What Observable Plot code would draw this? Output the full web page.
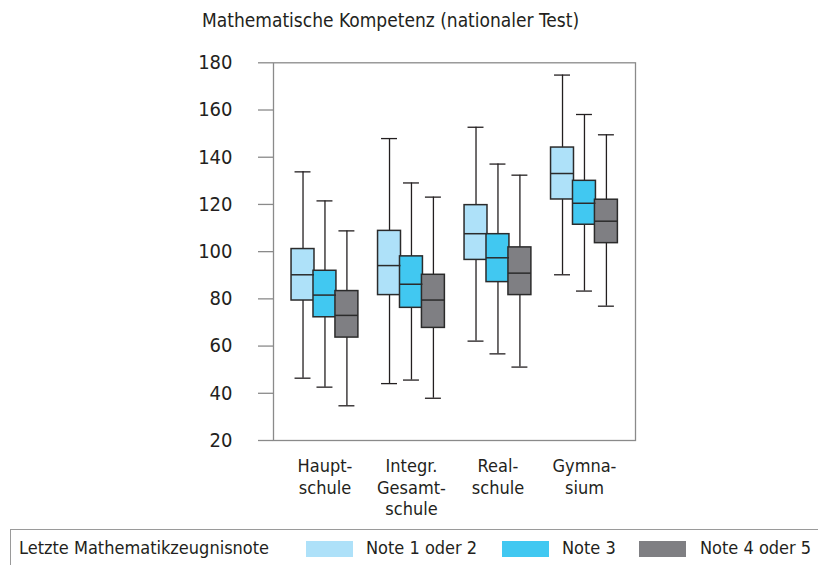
<!DOCTYPE html>
<html><head><meta charset="utf-8">
<script src="https://cdn.jsdelivr.net/npm/d3@7"></script>
<script src="https://cdn.jsdelivr.net/npm/@observablehq/plot@0.6"></script>
<style>
body{margin:0;background:#fff;font-family:"Liberation Sans Narrow","DejaVu Sans Condensed",sans-serif;color:#231f20;}
#wrap{position:relative;width:818px;height:565px;overflow:hidden;}
#title{position:absolute;left:202px;top:9px;font-size:19px;white-space:nowrap;}
#chart{position:absolute;left:0;top:0;}
#legend{position:absolute;left:10px;top:529px;width:900px;height:60px;border-top:1.5px solid #9a9a9a;border-left:1.5px solid #9a9a9a;}
#legend span.t{position:absolute;top:7px;font-size:18px;white-space:nowrap;}
#legend span.s{position:absolute;top:11px;width:47px;height:16px;}
</style></head>
<body><div id="wrap"><div id="title">Mathematische Kompetenz (nationaler Test)</div><div id="chart"></div><div id="legend"></div></div>
<script>
const groups = ["Haupt-\nschule", "Integr.\nGesamt-\nschule", "Real-\nschule", "Gymna-\nsium"];
const notes = ["Note 1 oder 2", "Note 3", "Note 4 oder 5"];
const colors = ["#aee1f9", "#41c8f1", "#7f7f83"];
const legendTitle = "Letzte Mathematikzeugnisnote";
const yTicks = [20, 40, 60, 80, 100, 120, 140, 160, 180];
// per group: [Note 1-2, Note 3, Note 4-5]
const whiskerLow = [[46.4,42.6,34.7],[44.1,45.6,37.9],[62.1,56.7,51.1],[90.2,83.3,76.9]];
const q1 = [[79.3,72.2,63.6],[81.6,76.2,67.7],[96.5,87.1,81.6],[122.1,111.4,103.6]];
const median = [[90.2,81.6,73.0],[94.1,86.2,79.5],[107.6,97.4,90.9],[133.1,120.5,112.9]];
const q3 = [[101.1,91.9,83.3],[108.8,98.0,90.2],[119.7,107.4,101.8],[144.1,130.0,122.0]];
const whiskerHigh = [[133.8,121.5,108.8],[147.9,129.1,123.1],[152.7,137.1,132.4],[174.8,158.1,149.5]];

const rows = [];
groups.forEach((g, gi) => notes.forEach((n, ni) => rows.push({
  gi, ni, note: n,
  lo: whiskerLow[gi][ni], q1: q1[gi][ni], med: median[gi][ni], q3: q3[gi][ni], hi: whiskerHigh[gi][ni]
})));

const unit = 86.7;            // px per group
const step = 22 / unit;       // offset between boxes
const boxHalf = 11.5 / unit;
const capHalf = 8 / unit;
const cx = d => d.gi + (d.ni - 1) * step;

const plot = Plot.plot({
  width: 818, height: 525,
  marginTop: 62.3, marginBottom: 85, marginLeft: 273, marginRight: 183,
  style: {fontFamily: '"Liberation Sans Narrow","DejaVu Sans Condensed",sans-serif', color: "#231f20", background: "transparent"},
  x: {type: "linear", domain: [-0.595, 3.59]},
  y: {domain: [20, 180]},
  color: {domain: notes, range: colors},
  marks: [
    Plot.axisY({ticks: yTicks, tickSize: 15, tickPadding: 26, fontSize: 20, stroke: "#8a8a8a", strokeWidth: 1.3, tickFormat: d => String(d), label: null}),
    Plot.axisX({ticks: [0, 1, 2, 3], tickSize: 0, tickPadding: 17, fontSize: 18, lineHeight: 1.17, tickFormat: i => groups[i], label: null}),
    Plot.ruleX(rows, {x: cx, y1: "lo", y2: "hi", stroke: "#231f20", strokeWidth: 1.3}),
    Plot.ruleY(rows, {y: "lo", x1: d => cx(d) - capHalf, x2: d => cx(d) + capHalf, stroke: "#231f20", strokeWidth: 1.3}),
    Plot.ruleY(rows, {y: "hi", x1: d => cx(d) - capHalf, x2: d => cx(d) + capHalf, stroke: "#231f20", strokeWidth: 1.3}),
    Plot.rect(rows, {x1: d => cx(d) - boxHalf, x2: d => cx(d) + boxHalf, y1: "q1", y2: "q3", fill: "note", stroke: "#2b2b2b", strokeWidth: 1.5}),
    Plot.ruleY(rows, {y: "med", x1: d => cx(d) - boxHalf, x2: d => cx(d) + boxHalf, stroke: "#2b2b2b", strokeWidth: 1.5}),
    Plot.frame({stroke: "#8a8a8a", strokeWidth: 1.3})
  ]
});
document.getElementById("chart").appendChild(plot);

const lg = document.getElementById("legend");
const t = document.createElement("span"); t.className = "t"; t.style.left = "8px"; t.textContent = legendTitle; lg.appendChild(t);
const swX = [295, 491, 628];
const txX = [355, 551, 689];
notes.forEach((n, i) => {
  const s = document.createElement("span"); s.className = "s"; s.style.left = swX[i] + "px"; s.style.background = colors[i]; lg.appendChild(s);
  const l = document.createElement("span"); l.className = "t"; l.style.left = txX[i] + "px"; l.textContent = n; lg.appendChild(l);
});
</script></body></html>
